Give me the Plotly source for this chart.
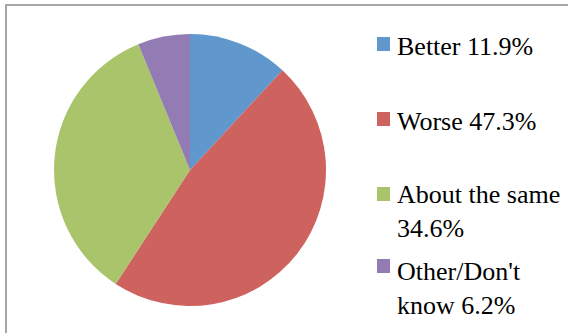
import plotly.graph_objects as go

categories = ["Better", "Worse", "About the same", "Other/Don't know"]
values = [11.9, 47.3, 34.6, 6.2]
legend_text = ["Better 11.9%", "Worse 47.3%", "About the same<br>34.6%", "Other/Don't<br>know 6.2%"]
colors = ["#6097CD", "#CE625E", "#AAC46B", "#937BB3"]

W, H = 568, 333

def px(x):
    return x / W

def py(y):
    return 1 - y / H

fig = go.Figure()
fig.add_trace(go.Pie(
    labels=categories,
    values=values,
    sort=False,
    direction="clockwise",
    rotation=0,
    marker=dict(colors=colors, line=dict(width=0)),
    textinfo="none",
    hoverinfo="label+percent",
    domain=dict(x=[px(54), px(326)], y=[py(306), py(34)]),
    showlegend=False,
))

# legend (manual)
text_centers = [46, 121, 211, 288]
marker_tops = [37, 112, 187, 259]
shapes = []
annotations = []
for txt, col, cy, mt in zip(legend_text, colors, text_centers, marker_tops):
    shapes.append(dict(type="rect", xref="paper", yref="paper",
                       x0=px(377), x1=px(390), y0=py(mt + 14), y1=py(mt),
                       fillcolor=col, line=dict(width=0)))
    annotations.append(dict(text=txt, xref="paper", yref="paper",
                            x=px(395), y=py(cy), xanchor="left", yanchor="middle",
                            align="left", showarrow=False,
                            font=dict(family="Liberation Serif",
                                      size=26, color="#000000")))

# chart border
shapes.append(dict(type="rect", xref="paper", yref="paper",
                   x0=px(6), x1=1.1, y0=-0.1, y1=py(5),
                   line=dict(color="#A6A6A6", width=2), fillcolor="rgba(0,0,0,0)"))

fig.update_layout(
    width=W, height=H,
    margin=dict(l=0, r=0, t=0, b=0),
    paper_bgcolor="white",
    plot_bgcolor="white",
    shapes=shapes,
    annotations=annotations,
)

fig.write_html("out.html",
               config={"displayModeBar": False},
               post_script="document.body.style.margin='0';document.body.style.overflow='hidden';")
